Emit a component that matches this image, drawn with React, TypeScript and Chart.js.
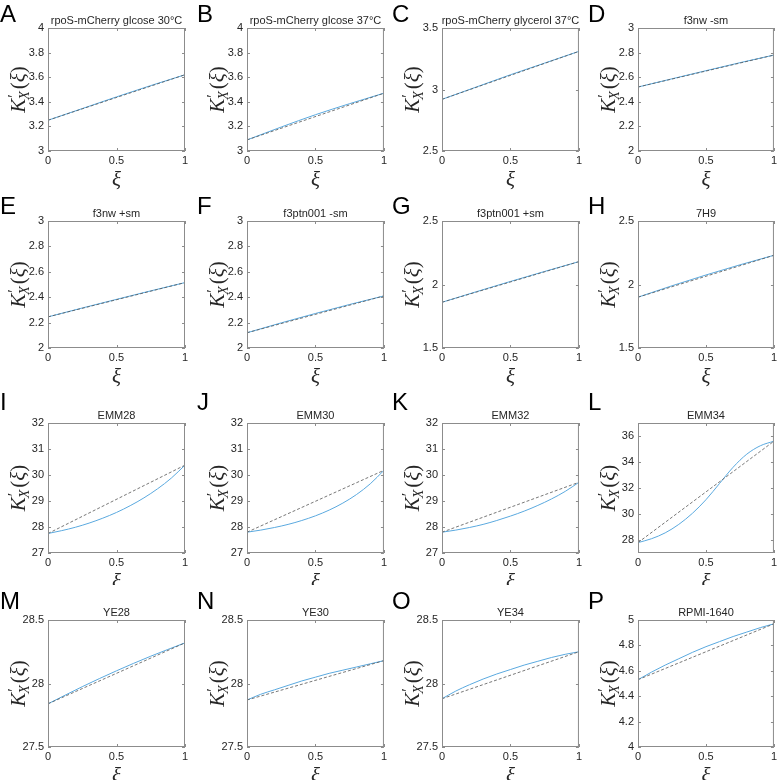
import React, { useEffect, useRef } from 'react';
import { Chart, registerables } from 'chart.js';
Chart.register(...registerables);

// ---------- data ----------
const XI5 = [0, 0.25, 0.5, 0.75, 1];
const XI11 = [0, 0.1, 0.2, 0.3, 0.4, 0.5, 0.6, 0.7, 0.8, 0.9, 1];
const XI_ENDS = [0, 1];
const X_TICKS = [0, 0.5, 1];

const fitA = [3.25, 3.345, 3.44, 3.532, 3.62];
const fitB = [3.09, 3.195, 3.295, 3.385, 3.47];
const fitC = [2.92, 3.02, 3.12, 3.215, 3.31];
const fitD = [2.52, 2.587, 2.653, 2.718, 2.78];
const fitE = [2.245, 2.315, 2.383, 2.45, 2.515];
const fitF = [2.12, 2.198, 2.272, 2.343, 2.41];
const fitG = [1.86, 1.943, 2.024, 2.103, 2.18];
const fitH = [1.9, 1.99, 2.075, 2.155, 2.23];
const fitI = [27.75, 27.86, 27.99, 28.15, 28.34, 28.56, 28.82, 29.12, 29.47, 29.88, 30.38];
const fitJ = [27.8, 27.88, 27.98, 28.1, 28.25, 28.43, 28.65, 28.92, 29.25, 29.66, 30.18];
const fitK = [27.8, 27.88, 27.98, 28.1, 28.25, 28.42, 28.61, 28.83, 29.08, 29.37, 29.72];
const fitL = [27.8, 28.1, 28.55, 29.2, 30.05, 31.1, 32.35, 33.6, 34.6, 35.25, 35.6];
const fitM = [27.84, 27.975, 28.1, 28.215, 28.32];
const fitN = [27.87, 27.915, 27.95, 27.985, 28.02, 28.05, 28.08, 28.105, 28.13, 28.155, 28.18];
const fitO = [27.88, 27.94, 27.99, 28.035, 28.075, 28.11, 28.145, 28.175, 28.205, 28.23, 28.25];
const fitP = [4.53, 4.59, 4.645, 4.695, 4.745, 4.79, 4.83, 4.87, 4.905, 4.94, 4.97];

const lineA = [3.25, 3.62];
const lineB = [3.09, 3.47];
const lineC = [2.92, 3.31];
const lineD = [2.52, 2.78];
const lineE = [2.245, 2.515];
const lineF = [2.12, 2.41];
const lineG = [1.86, 2.18];
const lineH = [1.9, 2.23];
const lineI = [27.75, 30.38];
const lineJ = [27.8, 30.18];
const lineK = [27.8, 29.72];
const lineL = [27.8, 35.6];
const lineM = [27.84, 28.32];
const lineN = [27.87, 28.18];
const lineO = [27.88, 28.25];
const lineP = [4.53, 4.97];

const ticks3to4 = [3, 3.2, 3.4, 3.6, 3.8, 4];
const ticks25to35 = [2.5, 3, 3.5];
const ticks2to3 = [2, 2.2, 2.4, 2.6, 2.8, 3];
const ticks15to25 = [1.5, 2, 2.5];
const ticks27to32 = [27, 28, 29, 30, 31, 32];
const ticksEMM34 = [28, 30, 32, 34, 36];
const rangeEMM34 = [27, 37];
const ticksYE = [27.5, 28, 28.5];
const ticks4to5 = [4, 4.2, 4.4, 4.6, 4.8, 5];

const letters = ['A', 'B', 'C', 'D', 'E', 'F', 'G', 'H', 'I', 'J', 'K', 'L', 'M', 'N', 'O', 'P'];
const titles = [
  'rpoS-mCherry glcose 30°C', 'rpoS-mCherry glcose 37°C', 'rpoS-mCherry glycerol 37°C', 'f3nw -sm',
  'f3nw +sm', 'f3ptn001 -sm', 'f3ptn001 +sm', '7H9',
  'EMM28', 'EMM30', 'EMM32', 'EMM34',
  'YE28', 'YE30', 'YE34', 'RPMI-1640',
];

const panels = [
  { xs: XI5, fit: fitA, line: lineA, ticks: ticks3to4 },
  { xs: XI5, fit: fitB, line: lineB, ticks: ticks3to4 },
  { xs: XI5, fit: fitC, line: lineC, ticks: ticks25to35 },
  { xs: XI5, fit: fitD, line: lineD, ticks: ticks2to3 },
  { xs: XI5, fit: fitE, line: lineE, ticks: ticks2to3 },
  { xs: XI5, fit: fitF, line: lineF, ticks: ticks2to3 },
  { xs: XI5, fit: fitG, line: lineG, ticks: ticks15to25 },
  { xs: XI5, fit: fitH, line: lineH, ticks: ticks15to25 },
  { xs: XI11, fit: fitI, line: lineI, ticks: ticks27to32 },
  { xs: XI11, fit: fitJ, line: lineJ, ticks: ticks27to32 },
  { xs: XI11, fit: fitK, line: lineK, ticks: ticks27to32 },
  { xs: XI11, fit: fitL, line: lineL, ticks: ticksEMM34, range: rangeEMM34 },
  { xs: XI5, fit: fitM, line: lineM, ticks: ticksYE },
  { xs: XI11, fit: fitN, line: lineN, ticks: ticksYE },
  { xs: XI11, fit: fitO, line: lineO, ticks: ticksYE },
  { xs: XI11, fit: fitP, line: lineP, ticks: ticks4to5 },
];

// ---------- layout ----------
const CELL = 195;
const colX = [0, 195, 390, 585];
const rowY = [0, 195, 390, 585];
const plotLeft = [48, 52, 52, 53];
const plotW = [137, 138, 138, 139];
const plotTop = [28, 26, 33, 35];
const plotH = [123, 127, 130, 127];
const letterX = [0, 2, 2, 3];
const letterBase = [22, 19, 20, 24];

const BLUE = '#5aa9df';
const AXIS = '#8c8c8c';
const TEXT = '#262626';
const SANS = '"Liberation Sans", Arial, sans-serif';
const SERIF = '"Liberation Serif", "Times New Roman", serif';

const decoPlugin = {
  id: 'deco',
  afterDraw(chart: any, _args: any, opts: any) {
    const { ctx, chartArea: a, scales } = chart;
    ctx.save();
    // box
    ctx.strokeStyle = AXIS;
    ctx.lineWidth = 1;
    ctx.strokeRect(a.left + 0.5, a.top + 0.5, a.right - a.left - 1, a.bottom - a.top - 1);
    // inward ticks
    ctx.beginPath();
    scales.y.ticks.forEach((t: any) => {
      const y = Math.round(scales.y.getPixelForValue(t.value)) + 0.5;
      ctx.moveTo(a.left, y); ctx.lineTo(a.left + 3, y);
      ctx.moveTo(a.right, y); ctx.lineTo(a.right - 3, y);
    });
    scales.x.ticks.forEach((t: any) => {
      const x = Math.round(scales.x.getPixelForValue(t.value)) + 0.5;
      ctx.moveTo(x, a.bottom); ctx.lineTo(x, a.bottom - 3);
      ctx.moveTo(x, a.top); ctx.lineTo(x, a.top + 3);
    });
    ctx.stroke();

    // letter
    ctx.fillStyle = '#000';
    ctx.font = `24px ${SANS}`;
    ctx.textAlign = 'left';
    ctx.textBaseline = 'alphabetic';
    ctx.fillText(opts.letter, opts.lx, opts.ly);

    // title
    ctx.fillStyle = TEXT;
    ctx.font = `11px ${SANS}`;
    ctx.textAlign = 'center';
    ctx.fillText(opts.title, (a.left + a.right) / 2, a.top - 4);

    // x label
    ctx.font = `italic 21px ${SERIF}`;
    ctx.textBaseline = 'middle';
    ctx.fillText('ξ', (a.left + a.right) / 2, a.bottom + 29);

    // y label K'_X(ξ)
    ctx.translate(a.left - 30, (a.top + a.bottom) / 2);
    ctx.rotate(-Math.PI / 2);
    ctx.textAlign = 'left';
    ctx.textBaseline = 'alphabetic';
    const big = `italic 21px ${SERIF}`;
    const bigUp = `21px ${SERIF}`;
    const small = `italic 14px ${SERIF}`;
    const primeF = `16px ${SERIF}`;
    ctx.font = big; const wK = ctx.measureText('K').width;
    ctx.font = small; const wX = ctx.measureText('X').width;
    ctx.font = primeF; const wP = ctx.measureText('′').width;
    ctx.font = bigUp; const wPar = ctx.measureText('(').width;
    ctx.font = big; const wXi = ctx.measureText('ξ').width;
    const total = wK + Math.max(wX, wP) + 1 + wPar * 2 + wXi;
    let x = -total / 2;
    const base = 7;
    ctx.font = big; ctx.fillText('K', x, base); x += wK;
    ctx.font = primeF; ctx.fillText('′', x + 1, base - 6);
    ctx.font = small; ctx.fillText('X', x - 1, base + 4); x += Math.max(wX, wP) + 1;
    ctx.font = bigUp; ctx.fillText('(', x, base); x += wPar;
    ctx.font = big; ctx.fillText('ξ', x, base); x += wXi;
    ctx.font = bigUp; ctx.fillText(')', x, base);
    ctx.restore();
  },
};

const fmt = (v: any) => String(Number(Number(v).toFixed(3)));

function Panel({ idx }: { idx: number }) {
  const ref = useRef<HTMLCanvasElement>(null);
  const r = Math.floor(idx / 4);
  const c = idx % 4;
  useEffect(() => {
    const p: any = panels[idx];
    const yMin = p.range ? p.range[0] : p.ticks[0];
    const yMax = p.range ? p.range[1] : p.ticks[p.ticks.length - 1];
    const chart = new Chart(ref.current as HTMLCanvasElement, {
      type: 'line',
      data: {
        datasets: [
          {
            data: XI_ENDS.map((x, i) => ({ x, y: p.line[i] })),
            borderColor: '#555555',
            borderWidth: 0.8,
            borderDash: [3, 2],
            pointRadius: 0,
            fill: false,
          },
          {
            data: p.xs.map((x: number, i: number) => ({ x, y: p.fit[i] })),
            borderColor: BLUE,
            borderWidth: 1,
            pointRadius: 0,
            cubicInterpolationMode: 'monotone',
            fill: false,
          },
        ],
      },
      options: {
        responsive: false,
        animation: false,
        devicePixelRatio: 1,
        events: [],
        layout: {
          padding: {
            left: 0,
            top: plotTop[r],
            right: CELL - plotLeft[c] - plotW[c],
            bottom: 0,
          },
        },
        plugins: {
          legend: { display: false },
          tooltip: { enabled: false },
          title: { display: false },
          deco: { letter: letters[idx], title: titles[idx], lx: letterX[c], ly: letterBase[r] },
        } as any,
        scales: {
          x: {
            type: 'linear',
            min: 0,
            max: 1,
            grid: { display: false, drawTicks: false },
            border: { display: false },
            afterBuildTicks: (s: any) => { s.ticks = X_TICKS.map((v) => ({ value: v })); },
            afterFit: (s: any) => { s.height = CELL - plotTop[r] - plotH[r]; },
            ticks: {
              color: TEXT,
              font: { family: SANS, size: 11 },
              padding: 3,
              maxRotation: 0,
              callback: fmt,
            },
          },
          y: {
            type: 'linear',
            min: yMin,
            max: yMax,
            grid: { display: false, drawTicks: false },
            border: { display: false },
            afterBuildTicks: (s: any) => { s.ticks = p.ticks.map((v: number) => ({ value: v })); },
            afterFit: (s: any) => { s.width = plotLeft[c]; },
            ticks: {
              color: TEXT,
              font: { family: SANS, size: 11 },
              padding: 4,
              callback: fmt,
            },
          },
        },
      },
      plugins: [decoPlugin],
    } as any);
    return () => chart.destroy();
  }, [idx]);
  return (
    <canvas
      ref={ref}
      width={CELL}
      height={CELL}
      style={{ position: 'absolute', left: colX[c], top: rowY[r], width: CELL, height: CELL }}
    />
  );
}

export default function App() {
  return (
    <div style={{ position: 'absolute', left: 0, top: 0, width: 782, height: 780, background: '#fff', overflow: 'hidden' }}>
      {panels.map((_, i) => (
        <Panel key={i} idx={i} />
      ))}
    </div>
  );
}
